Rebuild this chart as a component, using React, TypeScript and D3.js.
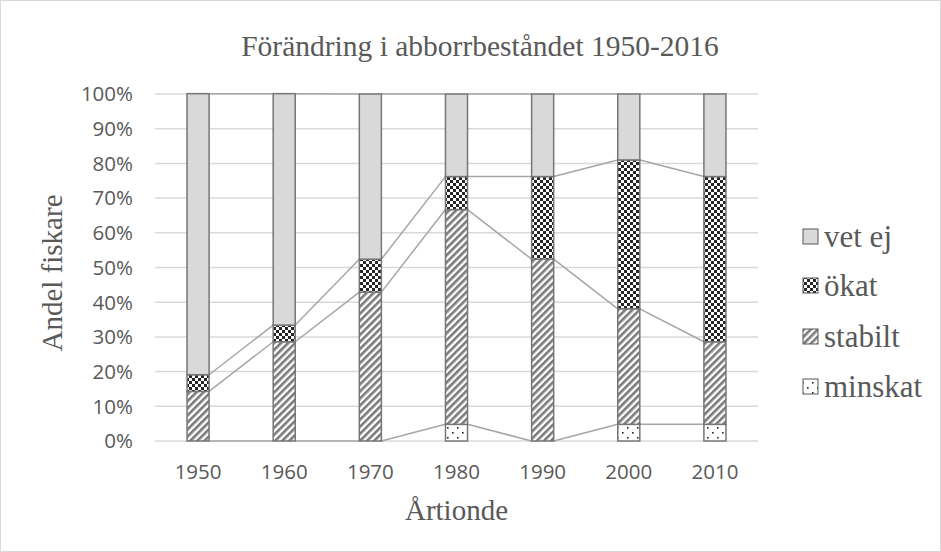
import React from "react";
import * as d3 from "d3";

// decades on the x axis
const decades = ["1950", "1960", "1970", "1980", "1990", "2000", "2010"];

// share of fishermen (%) per answer, bottom to top
const minskat = [0, 0, 0, 4.8, 0, 4.8, 4.8];
const stabilt = [14.3, 28.6, 42.9, 61.9, 52.4, 33.3, 23.8];
const okat = [4.8, 4.8, 9.5, 9.5, 23.8, 42.9, 47.6];
const vetEj = [81.0, 66.7, 47.6, 23.8, 23.8, 19.0, 23.8];

const seriesKeys = ["minskat", "stabilt", "okat", "vetEj"];
const seriesNames = ["minskat", "stabilt", "ökat", "vet ej"];
const yTicks = [0, 10, 20, 30, 40, 50, 60, 70, 80, 90, 100];

const W = 941;
const H = 552;
const margin = { top: 94, right: 183, bottom: 111, left: 155 };

const serif = "'Liberation Serif', 'Times New Roman', serif";
const sans = "'Open Sans', 'Liberation Sans', sans-serif";
const textColor = "#595959";

const App = () => {
  const rows = decades.map((d, i) => ({
    decade: d,
    minskat: minskat[i],
    stabilt: stabilt[i],
    okat: okat[i],
    vetEj: vetEj[i],
  }));

  const x = d3
    .scaleBand()
    .domain(decades)
    .range([margin.left, W - margin.right])
    .paddingInner(0.744)
    .paddingOuter(0.372);

  const y = d3
    .scaleLinear()
    .domain([0, 100])
    .range([H - margin.bottom, margin.top]);

  const stacked = d3.stack().keys(seriesKeys)(rows as any);

  const fills = ["url(#dots)", "url(#stripes)", "url(#checker)", "#d9d9d9"];
  const bw = x.bandwidth();

  // legend, top item first
  const legendOrder = [3, 2, 1, 0];
  const legendY = [247, 296, 347, 397];

  return (
    <svg
      width={W}
      height={H}
      style={{ position: "absolute", left: 0, top: 0, background: "#fff" }}
    >
      <defs>
        <pattern id="checker" width={6} height={6} patternUnits="userSpaceOnUse">
          <rect width={6} height={6} fill="#fff" />
          <rect width={3} height={3} fill="#262626" />
          <rect x={3} y={3} width={3} height={3} fill="#262626" />
        </pattern>
        <pattern
          id="stripes"
          width={5}
          height={5}
          patternUnits="userSpaceOnUse"
          patternTransform="rotate(45)"
        >
          <rect width={5} height={5} fill="#fff" />
          <rect width={2.6} height={5} fill="#7a7a7a" />
        </pattern>
        <pattern id="dots" width={10} height={10} patternUnits="userSpaceOnUse">
          <rect width={10} height={10} fill="#fff" />
          <rect x={2} y={2} width={1.6} height={1.6} fill="#222" />
          <rect x={7} y={7} width={1.6} height={1.6} fill="#222" />
        </pattern>
      </defs>

      <rect x={0.5} y={0.5} width={W - 1} height={H - 1} fill="none" stroke="#d9d9d9" />

      {/* title */}
      <text
        x={480}
        y={56}
        textAnchor="middle"
        fontFamily={serif}
        fontSize={29.5}
        fill={textColor}
      >
        Förändring i abborrbeståndet 1950-2016
      </text>

      {/* gridlines + y ticks */}
      {yTicks.map((t) => (
        <g key={t}>
          <line
            x1={margin.left}
            x2={W - margin.right}
            y1={y(t)}
            y2={y(t)}
            stroke="#d9d9d9"
            strokeWidth={1.5}
          />
          <text
            x={133}
            y={y(t)}
            dy="0.36em"
            textAnchor="end"
            fontFamily={sans}
            fontSize={20.5}
            fill={textColor}
          >
            {t}%
          </text>
        </g>
      ))}

      {/* series lines between bars */}
      {stacked.map((s, si) => (
        <g key={"sl" + si}>
          {s.slice(0, -1).map((d, i) => (
            <line
              key={i}
              x1={(x(decades[i]) as number) + bw}
              y1={y(d[1])}
              x2={x(decades[i + 1]) as number}
              y2={y(s[i + 1][1])}
              stroke="#a6a6a6"
              strokeWidth={1.5}
            />
          ))}
        </g>
      ))}

      {/* bars */}
      {stacked.map((s, si) => (
        <g key={"b" + si}>
          {s.map((d, i) =>
            d[1] - d[0] > 0 ? (
              <rect
                key={i}
                x={x(decades[i])}
                y={y(d[1])}
                width={bw}
                height={y(d[0]) - y(d[1])}
                fill={fills[si]}
                stroke="#767676"
                strokeWidth={1.5}
              />
            ) : null
          )}
        </g>
      ))}

      {/* x ticks */}
      {decades.map((d) => (
        <text
          key={d}
          x={(x(d) as number) + bw / 2}
          y={479}
          textAnchor="middle"
          fontFamily={sans}
          fontSize={20.5}
          fill={textColor}
        >
          {d}
        </text>
      ))}

      {/* axis titles */}
      <text
        x={(margin.left + W - margin.right) / 2}
        y={520}
        textAnchor="middle"
        fontFamily={serif}
        fontSize={29}
        fill={textColor}
      >
        Årtionde
      </text>
      <text
        transform={`translate(62,273) rotate(-90)`}
        textAnchor="middle"
        fontFamily={serif}
        fontSize={29}
        fill={textColor}
      >
        Andel fiskare
      </text>

      {/* legend */}
      {legendOrder.map((si, k) => (
        <g key={"lg" + si}>
          <rect
            x={803}
            y={legendY[k] - 18}
            width={15}
            height={15}
            fill={fills[si]}
            stroke="#595959"
            strokeWidth={1}
          />
          <text
            x={824}
            y={legendY[k]}
            fontFamily={serif}
            fontSize={31}
            fill={textColor}
          >
            {seriesNames[si]}
          </text>
        </g>
      ))}
    </svg>
  );
};

export default App;
